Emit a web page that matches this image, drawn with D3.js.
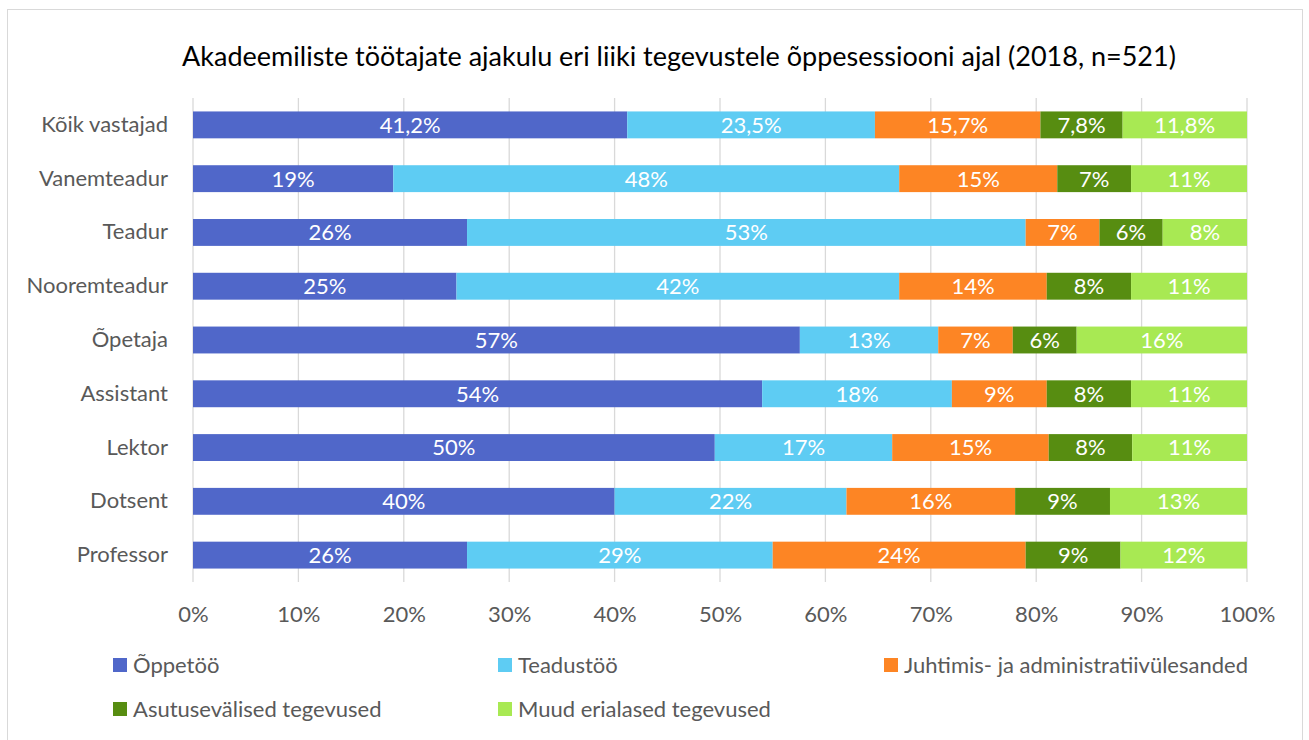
<!DOCTYPE html>
<html>
<head>
<meta charset="utf-8">
<script src="https://cdn.jsdelivr.net/npm/d3@7"></script>
<style>
  body { margin: 0; background: #fff; }
  text { font-family: "Lato", "Open Sans", sans-serif; }
</style>
</head>
<body>
<div id="chart"></div>
<script>
// data (Excel 100% stacked bars, rows are normalised)
var categories = ["Kõik vastajad", "Vanemteadur", "Teadur", "Nooremteadur", "Õpetaja", "Assistant", "Lektor", "Dotsent", "Professor"];
var seriesNames = ["Õppetöö", "Teadustöö", "Juhtimis- ja administratiivülesanded", "Asutusevälised tegevused", "Muud erialased tegevused"];
var oppetoo    = [41.2, 19, 26, 25, 57, 54, 50, 40, 26];
var teadustoo  = [23.5, 48, 53, 42, 13, 18, 17, 22, 29];
var juhtimis   = [15.7, 15, 7, 14, 7, 9, 15, 16, 24];
var asutusev   = [7.8, 7, 6, 8, 6, 8, 8, 9, 9];
var muud       = [11.8, 11, 8, 11, 16, 11, 11, 13, 12];
var decimals   = [1, 0, 0, 0, 0, 0, 0, 0, 0]; // Kõik vastajad shows one decimal
var xTicks = [0, 0.1, 0.2, 0.3, 0.4, 0.5, 0.6, 0.7, 0.8, 0.9, 1];
var colors = ["#5067C9", "#5ECCF3", "#FD8524", "#578D11", "#A8E953"];

var W = 1309, H = 740;
var margin = {top: 98, right: 62, bottom: 158, left: 193};

var allSeries = [oppetoo, teadustoo, juhtimis, asutusev, muud];
var table = categories.map(function(c, i){
  var row = {cat: c, dec: decimals[i]};
  seriesNames.forEach(function(s, j){ row[s] = allSeries[j][i]; });
  return row;
});

var stack = d3.stack().keys(seriesNames).offset(d3.stackOffsetExpand);
var layers = stack(table);

var svg = d3.select("#chart").append("svg")
  .attr("width", W).attr("height", H);

// chart frame
svg.append("rect").attr("x", 7.5).attr("y", 9.5).attr("width", 1295).attr("height", 760)
  .attr("fill", "#fff").attr("stroke", "#D9D9D9").attr("stroke-width", 1);

var x = d3.scaleLinear().domain([0, 1]).range([margin.left, W - margin.right]);
var y = d3.scaleBand().domain(categories).range([margin.top, H - margin.bottom])
  .paddingInner(0.5).paddingOuter(0.25);

// title
svg.append("text").attr("x", 679).attr("y", 66).attr("text-anchor", "middle")
  .attr("font-size", "27px").attr("fill", "#000")
  .text("Akadeemiliste töötajate ajakulu eri liiki tegevustele õppesessiooni ajal (2018, n=521)");

// gridlines
svg.append("g").selectAll("line").data(xTicks).join("line")
  .attr("x1", function(d){ return x(d); }).attr("x2", function(d){ return x(d); })
  .attr("y1", margin.top).attr("y2", H - margin.bottom)
  .attr("stroke", "#D9D9D9").attr("stroke-width", 1.3);

// x axis labels
var xAxis = d3.axisBottom(x).tickValues(xTicks).tickFormat(d3.format(".0%")).tickSize(0).tickPadding(24);
var gx = svg.append("g").attr("transform", "translate(0," + (H - margin.bottom) + ")").call(xAxis);
gx.select(".domain").remove();
gx.selectAll("text").attr("font-size", "22px").attr("fill", "#595959")
  .attr("font-family", "Lato, 'Open Sans', sans-serif");

// y axis labels
var yAxis = d3.axisLeft(y).tickSize(0).tickPadding(25);
var gy = svg.append("g").attr("transform", "translate(" + margin.left + ",0)").call(yAxis);
gy.select(".domain").remove();
gy.selectAll("text").attr("font-size", "22px").attr("fill", "#595959")
  .attr("font-family", "Lato, 'Open Sans', sans-serif");

// bars
var groups = svg.append("g").selectAll("g").data(layers).join("g")
  .attr("fill", function(d, i){ return colors[i]; });

groups.selectAll("rect").data(function(d){ return d; }).join("rect")
  .attr("x", function(d){ return x(d[0]); })
  .attr("y", function(d){ return y(d.data.cat); })
  .attr("width", function(d){ return x(d[1]) - x(d[0]); })
  .attr("height", y.bandwidth());

// data labels
layers.forEach(function(layer){
  svg.append("g").selectAll("text").data(layer).join("text")
    .attr("x", function(d){ return (x(d[0]) + x(d[1])) / 2; })
    .attr("y", function(d){ return y(d.data.cat) + y.bandwidth() / 2; })
    .attr("dy", "0.36em")
    .attr("text-anchor", "middle")
    .attr("font-size", "22px").attr("fill", "#fff")
    .text(function(d){
      var v = d.data[layer.key];
      return v.toFixed(d.data.dec).replace(".", ",") + "%";
    });
});

// legend
var legX = [113, 498, 884];
var legY = [665, 709];
var leg = svg.append("g").selectAll("g").data(seriesNames).join("g")
  .attr("transform", function(d, i){ return "translate(" + legX[i % 3] + "," + legY[Math.floor(i / 3)] + ")"; });
leg.append("rect").attr("x", 0).attr("y", -7).attr("width", 14).attr("height", 14)
  .attr("fill", function(d, i){ return colors[i]; });
leg.append("text").attr("x", 20).attr("dy", "0.36em")
  .attr("font-size", "22px").attr("fill", "#595959")
  .text(function(d){ return d; });
</script>
</body>
</html>
